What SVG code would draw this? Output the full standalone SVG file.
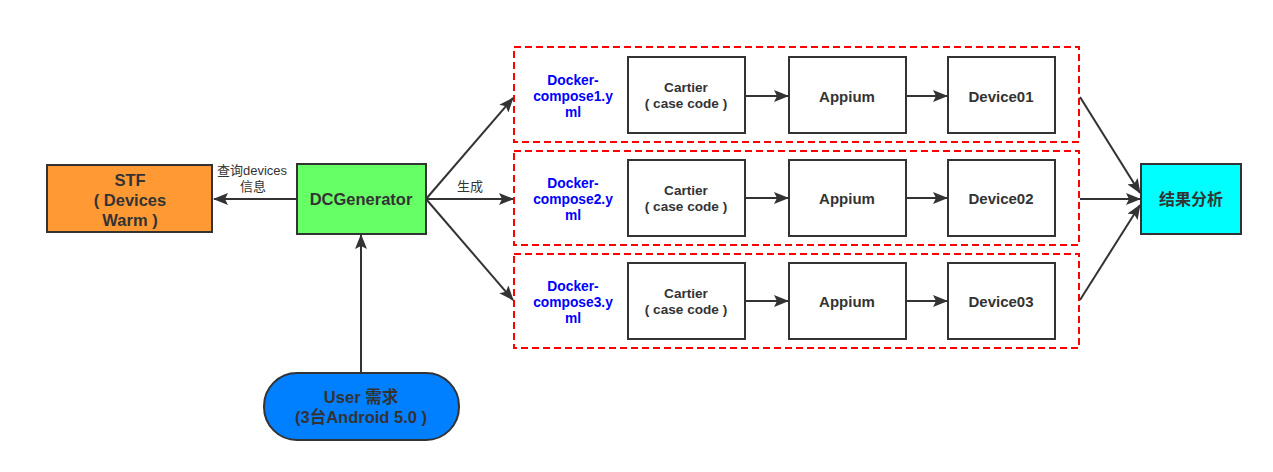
<svg xmlns="http://www.w3.org/2000/svg" width="1273" height="472" viewBox="0 0 1273 472">
<style>
.box{stroke:#333;stroke-width:2}
.w{fill:#fff}
.t{font-family:"Liberation Sans","Noto Sans CJK SC",sans-serif;font-weight:bold;fill:#333;text-anchor:middle;dominant-baseline:central}
.b{fill:#0000ff;font-size:13.8px}
.lbl{font-family:"Liberation Sans","Noto Sans CJK SC",sans-serif;font-size:13px;fill:#333;text-anchor:middle;dominant-baseline:central}
.dash{fill:none;stroke:#ff0000;stroke-width:2;stroke-dasharray:7,4}
.e{fill:none;stroke:#333;stroke-width:2;marker-end:url(#arr)}
</style>
<defs>
<marker id="arr" markerUnits="userSpaceOnUse" markerWidth="16" markerHeight="12" refX="14" refY="6" orient="auto">
<path d="M0,0 L15,6 L0,12 L3,6 Z" fill="#333"/>
</marker>
</defs>
<rect width="1273" height="472" fill="#fff"/>
<g id="group1"><rect class="dash" x="514" y="47" width="565" height="95"/></g>
<g id="group2"><rect class="dash" x="514" y="151" width="565" height="94"/></g>
<g id="group3"><rect class="dash" x="514" y="254" width="565" height="94"/></g>
<g id="connectors">
<path class="e" d="M296,199 L214,199"/>
<path class="e" d="M361,372 L361,235"/>
<path class="e" d="M426,199 L513,98"/>
<path class="e" d="M426,199 L513,199"/>
<path class="e" d="M426,199 L513,300"/>
<path class="e" d="M745,96 L788,96"/>
<path class="e" d="M906,96 L947,96"/>
<path class="e" d="M745,198 L788,198"/>
<path class="e" d="M906,198 L947,198"/>
<path class="e" d="M745,301 L788,301"/>
<path class="e" d="M906,301 L947,301"/>
<path class="e" d="M1080,97 L1140,193"/>
<path class="e" d="M1080,199 L1140,199"/>
<path class="e" d="M1080,300 L1140,205"/>
<text class="lbl" x="252" y="170">查询devices</text>
<text class="lbl" x="253" y="186.5">信息</text>
<text class="lbl" x="470" y="186">生成</text>
</g>
<g id="stf"><rect class="box" x="47" y="165" width="165" height="67" fill="#ff9933"/>
<text class="t" font-size="16.5" x="130" y="180">STF</text>
<text class="t" font-size="16.5" x="130" y="200">( Devices</text>
<text class="t" font-size="16.5" x="130" y="220">Warm )</text></g>
<g id="dcgenerator"><rect class="box" x="297" y="164" width="129" height="70" fill="#66ff66"/>
<text class="t" font-size="16.5" x="361" y="199">DCGenerator</text></g>
<g id="user"><rect class="box" x="264" y="373" width="195" height="67" rx="33" ry="33" fill="#007fff"/>
<text class="t" font-size="16.5" x="361" y="397">User 需求</text>
<text class="t" font-size="16.5" x="361" y="417">(3台Android 5.0 )</text></g>
<g id="result"><rect class="box" x="1141" y="164" width="100" height="70" fill="#00ffff"/>
<text class="t" font-size="16" x="1191" y="199">结果分析</text></g>
<g id="docker1"><text class="t b" x="573" y="80">Docker-</text><text class="t b" x="573" y="96">compose1.y</text><text class="t b" x="573" y="112">ml</text></g>
<g id="docker2"><text class="t b" x="573" y="183">Docker-</text><text class="t b" x="573" y="199">compose2.y</text><text class="t b" x="573" y="215">ml</text></g>
<g id="docker3"><text class="t b" x="573" y="286">Docker-</text><text class="t b" x="573" y="302">compose3.y</text><text class="t b" x="573" y="318">ml</text></g>
<g id="cartier1"><rect class="box w" x="628" y="57" width="117" height="76"/><text class="t" font-size="13.6" x="686" y="87">Cartier</text><text class="t" font-size="13.6" x="686" y="103">( case code )</text></g>
<g id="appium1"><rect class="box w" x="789" y="57" width="117" height="76"/><text class="t" font-size="15" x="847" y="96">Appium</text></g>
<g id="device01"><rect class="box w" x="948" y="57" width="107" height="76"/><text class="t" font-size="15" x="1001" y="96">Device01</text></g>
<g id="cartier2"><rect class="box w" x="628" y="160" width="117" height="76"/><text class="t" font-size="13.6" x="686" y="190">Cartier</text><text class="t" font-size="13.6" x="686" y="206">( case code )</text></g>
<g id="appium2"><rect class="box w" x="789" y="160" width="117" height="76"/><text class="t" font-size="15" x="847" y="198">Appium</text></g>
<g id="device02"><rect class="box w" x="948" y="160" width="107" height="76"/><text class="t" font-size="15" x="1001" y="198">Device02</text></g>
<g id="cartier3"><rect class="box w" x="628" y="263" width="117" height="76"/><text class="t" font-size="13.6" x="686" y="293">Cartier</text><text class="t" font-size="13.6" x="686" y="309">( case code )</text></g>
<g id="appium3"><rect class="box w" x="789" y="263" width="117" height="76"/><text class="t" font-size="15" x="847" y="301">Appium</text></g>
<g id="device03"><rect class="box w" x="948" y="263" width="107" height="76"/><text class="t" font-size="15" x="1001" y="301">Device03</text></g>
</svg>
